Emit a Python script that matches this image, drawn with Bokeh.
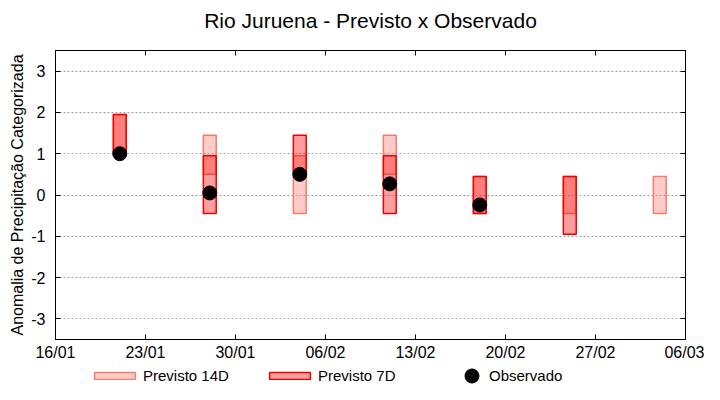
import pandas as pd
from bokeh.plotting import figure
from bokeh.layouts import column
from bokeh.models import (Range1d, FixedTicker, DatetimeTickFormatter, LinearAxis,
                          DatetimeAxis, Legend, LegendItem, ColumnDataSource, Label)
from bokeh.core.properties import value
from bokeh.embed import file_html
from bokeh.resources import INLINE

# ---------------- data ----------------
dates_14d = ["2023-01-21", "2023-01-28", "2023-02-04", "2023-02-11", "2023-02-18", "2023-02-25", "2023-03-04"]
p14_low = [1.0, 0.5, -0.45, 0.5, -0.45, -0.45, -0.45]
p14_high = [1.95, 1.45, 0.95, 1.45, 0.45, 0.45, 0.45]

dates_7d = ["2023-01-21", "2023-01-28", "2023-02-04", "2023-02-11", "2023-02-18", "2023-02-25"]
p7_low = [1.0, -0.45, 0.5, -0.45, -0.45, -0.95]
p7_high = [1.95, 0.95, 1.45, 0.95, 0.45, 0.45]

dates_obs = ["2023-01-21", "2023-01-28", "2023-02-04", "2023-02-11", "2023-02-18"]
observado = [1.0, 0.05, 0.5, 0.27, -0.24]

xtick_dates = ["2023-01-16", "2023-01-23", "2023-01-30", "2023-02-06", "2023-02-13",
               "2023-02-20", "2023-02-27", "2023-03-06"]
yticks = [-3, -2, -1, 0, 1, 2, 3]

title = "Rio Juruena - Previsto x Observado"
ylabel = "Anomalia de Precipitação Categorizada"
legend_labels = ["Previsto 14D", "Previsto 7D", "Observado"]
FONT = "Liberation Sans"

# ---------------- sources ----------------
half = pd.Timedelta(days=1) / 2


def ms(ts):
    return pd.Timestamp(ts).value / 1e6


s14 = ColumnDataSource(dict(
    left=[pd.Timestamp(d) - half for d in dates_14d],
    right=[pd.Timestamp(d) + half for d in dates_14d],
    bottom=p14_low, top=p14_high))
s7 = ColumnDataSource(dict(
    left=[pd.Timestamp(d) - half for d in dates_7d],
    right=[pd.Timestamp(d) + half for d in dates_7d],
    bottom=p7_low, top=p7_high))
sobs = ColumnDataSource(dict(x=[pd.Timestamp(d) for d in dates_obs], y=observado))

STYLE14 = dict(fill_color="#fa8072", fill_alpha=0.4, line_color="#f47c6e", line_width=1.5)
STYLE7 = dict(fill_color="#ff0000", fill_alpha=0.38, line_color="#ee0000", line_width=1.5)
STYLEOBS = dict(size=14, marker="circle", fill_color="black", line_color="black")

xrange = Range1d(pd.Timestamp(xtick_dates[0]), pd.Timestamp(xtick_dates[-1]))


def strip(height):
    f = figure(width=704, height=height, output_backend="svg", toolbar_location=None,
               x_axis_type="datetime", x_range=xrange, y_range=Range1d(0, 1),
               x_axis_location=None, y_axis_location=None,
               min_border_left=0, min_border_right=0, min_border_top=0, min_border_bottom=0)
    f.outline_line_color = None
    f.grid.visible = False
    f.background_fill_color = "white"
    f.border_fill_color = "white"
    return f


# ---------------- title strip ----------------
top = strip(40)
top.add_layout(Label(x=(ms(xtick_dates[0]) + ms(xtick_dates[-1])) / 2, y=0.5,
                     x_units="data", y_units="data", text=title,
                     text_font=FONT, text_font_size="21px", text_color="#000000",
                     text_align="center", text_baseline="middle"))

# ---------------- main plot ----------------
p = figure(width=704, height=326, output_backend="svg", toolbar_location=None,
           x_axis_type="datetime", x_range=xrange, y_range=Range1d(-3.5, 3.5),
           min_border_left=55, min_border_right=19, min_border_top=10, min_border_bottom=27)

p.outline_line_color = "black"
p.outline_line_width = 1
p.background_fill_color = "white"
p.border_fill_color = "white"

xticker = FixedTicker(ticks=[ms(d) for d in xtick_dates])
yticker = FixedTicker(ticks=yticks)

for ax in p.xaxis:
    ax.ticker = xticker
    ax.formatter = DatetimeTickFormatter(days="%d/%m", months="%d/%m")
for ax in p.yaxis:
    ax.ticker = yticker
    ax.axis_label = ylabel
    ax.major_label_overrides = {t: str(t) for t in yticks}  # plain hyphen-minus

for ax in list(p.xaxis) + list(p.yaxis):
    ax.major_tick_in = 5
    ax.major_tick_out = 0
    ax.minor_tick_line_color = None
    ax.axis_line_color = "black"
    ax.major_tick_line_color = "black"
    ax.major_label_text_font = FONT
    ax.major_label_text_font_size = "16px"
    ax.major_label_text_color = "#000000"
    ax.axis_label_text_font = FONT
    ax.axis_label_text_font_size = "16px"
    ax.axis_label_text_font_style = "normal"
    ax.axis_label_text_color = "#000000"
p.xaxis.major_label_standoff = 4
p.yaxis.major_label_standoff = 10
p.yaxis.axis_label_standoff = 2

# mirror axes: ticks only, labels not drawn
mirror = dict(major_tick_in=5, major_tick_out=0, minor_tick_line_color=None,
              major_label_text_color=None, major_label_text_font_size="1px",
              major_label_standoff=0, axis_line_color="black")
p.add_layout(LinearAxis(ticker=yticker, **mirror), "right")
p.add_layout(DatetimeAxis(ticker=xticker, **mirror), "above")

p.xgrid.grid_line_color = None
p.ygrid.ticker = yticker
p.ygrid.grid_line_color = "#a0a0a0"
p.ygrid.grid_line_dash = "2 2"
p.ygrid.grid_line_width = 1

p.quad(left="left", right="right", bottom="bottom", top="top", source=s14, **STYLE14)
p.quad(left="left", right="right", bottom="bottom", top="top", source=s7, **STYLE7)
p.scatter(x="x", y="y", source=sobs, **STYLEOBS)

# ---------------- legend strip ----------------
leg = strip(18)
leg.y_range = Range1d(100, 101)
g14 = leg.quad(left="left", right="right", bottom="bottom", top="top", source=s14, **STYLE14)
g7 = leg.quad(left="left", right="right", bottom="bottom", top="top", source=s7, **STYLE7)
gobs = leg.scatter(x="x", y="y", source=sobs, **STYLEOBS)


def mk_legend(r, text, loc, gw, gh, standoff):
    return Legend(items=[LegendItem(label=value(text), renderers=[r])], location=loc,
                  glyph_width=gw, glyph_height=gh, label_standoff=standoff,
                  padding=0, margin=0, spacing=0, border_line_color=None,
                  background_fill_alpha=0, label_text_font=FONT, label_text_font_size="15px",
                  label_text_color="#000000", label_height=9, label_width=1)


# locations are relative to the (aligned) strip frame, which starts at the main frame's left
leg.add_layout(mk_legend(g14, legend_labels[0], (34, 0), 51, 9, 3))
leg.add_layout(mk_legend(g7, legend_labels[1], (209, 0), 51, 9, 3))
leg.add_layout(mk_legend(gobs, legend_labels[2], (399, -8.5), 35, 35, 0))

layout = column(top, p, leg, spacing=0)
open("out.html", "w").write(file_html(layout, INLINE))
